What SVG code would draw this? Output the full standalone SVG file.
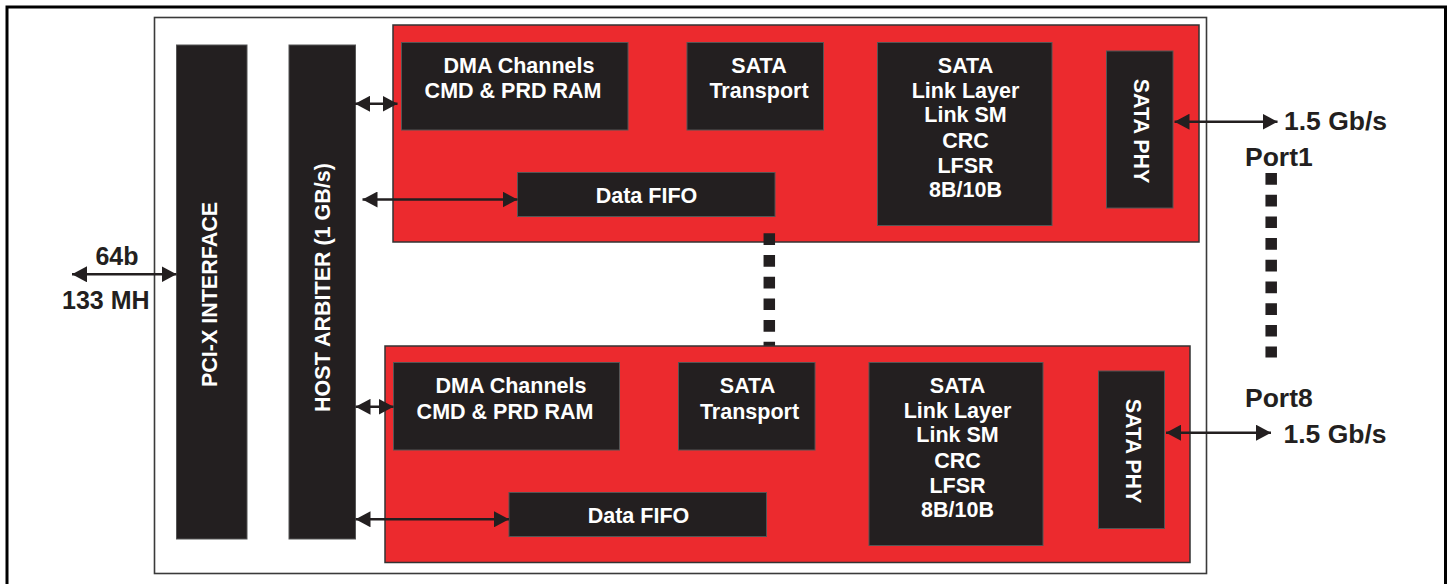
<svg xmlns="http://www.w3.org/2000/svg" width="1449" height="584" viewBox="0 0 1449 584">
<style>
.t{font-family:"Liberation Sans",Arial,sans-serif;font-weight:bold;font-size:21.5px;fill:#ffffff;text-anchor:middle}
.o{font-family:"Liberation Sans",Arial,sans-serif;font-weight:bold;fill:#231f20}
.blk{fill:#231f20;stroke:#555;stroke-width:1}
.red{fill:#ec2a2e;stroke:#333;stroke-width:1.5}
.ln{stroke:#231f20;stroke-width:2.5;fill:none;marker-start:url(#ah);marker-end:url(#ah)}
.dots{stroke:#231f20;stroke-width:11.5;fill:none;stroke-dasharray:11.7 10}
</style>
<defs>
<marker id="ah" viewBox="0 0 15 16" markerWidth="15" markerHeight="16" refX="15" refY="8" orient="auto-start-reverse" markerUnits="userSpaceOnUse">
<path d="M0,0 L15,8 L0,16 Z" fill="#231f20"/>
</marker>
</defs>
<rect x="0" y="0" width="1449" height="584" fill="#ffffff"/>
<rect x="7" y="7" width="1438.5" height="600" fill="none" stroke="#000" stroke-width="3"/>
<rect id="chip" x="154.5" y="17.5" width="1052" height="556" fill="#fff" stroke="#3a3a3a" stroke-width="1.6"/>

<g id="pcix">
<rect class="blk" x="176.5" y="45" width="70.5" height="494"/>
<text class="t" transform="translate(216.5,294.5) rotate(-90)">PCI-X INTERFACE</text>
</g>
<g id="host-arbiter">
<rect class="blk" x="289" y="45" width="66.5" height="494"/>
<text class="t" transform="translate(330,287.5) rotate(-90)">HOST ARBITER (1 GB/s)</text>
</g>

<g id="port1">
<rect class="red" x="393" y="25" width="806" height="217"/>
<g id="dma1"><rect class="blk" x="401.5" y="42.5" width="226.5" height="87.5"/>
<text class="t" x="519" y="72.5">DMA Channels</text><text class="t" x="513" y="97.5">CMD &amp; PRD RAM</text></g>
<g id="transport1"><rect class="blk" x="687" y="42.5" width="136.5" height="87.5"/>
<text class="t" x="759" y="72.5">SATA</text><text class="t" x="759" y="97.5">Transport</text></g>
<g id="fifo1"><rect class="blk" x="517.5" y="172.5" width="257.5" height="44"/>
<text class="t" x="646.5" y="202.5">Data FIFO</text></g>
<g id="link1"><rect class="blk" x="877.5" y="42.5" width="174.5" height="183"/>
<text class="t" x="965.5" y="72.5">SATA</text><text class="t" x="965.5" y="97.5">Link Layer</text><text class="t" x="965.5" y="122.3">Link SM</text><text class="t" x="965.5" y="147.5">CRC</text><text class="t" x="965.5" y="172.5">LFSR</text><text class="t" x="965.5" y="197.3">8B/10B</text></g>
<g id="phy1"><rect class="blk" x="1106.5" y="51" width="66.5" height="157"/>
<text class="t" transform="translate(1134,131) rotate(90)">SATA PHY</text></g>
</g>

<path class="dots" d="M769.3,233.3 V346"/>

<g id="port8">
<rect class="red" x="385" y="346" width="805" height="216.5"/>
<g id="dma8"><rect class="blk" x="393.5" y="362.5" width="226" height="87.5"/>
<text class="t" x="511" y="392.7">DMA Channels</text><text class="t" x="505" y="418.5">CMD &amp; PRD RAM</text></g>
<g id="transport8"><rect class="blk" x="678.5" y="362.5" width="136.5" height="87.5"/>
<text class="t" x="747.5" y="392.7">SATA</text><text class="t" x="749.5" y="418.5">Transport</text></g>
<g id="fifo8"><rect class="blk" x="509" y="492.5" width="257.5" height="44"/>
<text class="t" x="638.5" y="522.5">Data FIFO</text></g>
<g id="link8"><rect class="blk" x="869" y="362.5" width="174" height="183"/>
<text class="t" x="957.5" y="392.7">SATA</text><text class="t" x="957.5" y="417.7">Link Layer</text><text class="t" x="957.5" y="442.3">Link SM</text><text class="t" x="957.5" y="467.5">CRC</text><text class="t" x="957.5" y="492.7">LFSR</text><text class="t" x="957.5" y="517.3">8B/10B</text></g>
<g id="phy8"><rect class="blk" x="1098.5" y="371" width="66" height="157.5"/>
<text class="t" transform="translate(1126,451) rotate(90)">SATA PHY</text></g>
</g>

<path class="dots" d="M1271.2,173 V357.5"/>

<g id="connectors">
<line class="ln" x1="72" y1="274.3" x2="176.5" y2="274.3"/>
<line class="ln" x1="355" y1="103.8" x2="397.5" y2="103.8"/>
<line class="ln" x1="362.5" y1="199.5" x2="517.5" y2="199.5"/>
<line class="ln" x1="355.5" y1="406.8" x2="393.5" y2="406.8"/>
<line class="ln" x1="355.5" y1="519.3" x2="509" y2="519.3"/>
<line class="ln" x1="1174.5" y1="121.7" x2="1277.5" y2="121.7"/>
<line class="ln" x1="1166" y1="432.7" x2="1271" y2="432.7"/>
</g>

<g id="labels">
<text class="o" x="117" y="265" font-size="25" text-anchor="middle">64b</text>
<text class="o" x="62" y="308.7" font-size="25">133 MH</text>
<text class="o" x="1284" y="130" font-size="26.5">1.5 Gb/s</text>
<text class="o" x="1245" y="165.5" font-size="26.5">Port1</text>
<text class="o" x="1245" y="407.3" font-size="26.5">Port8</text>
<text class="o" x="1283.5" y="443" font-size="26.5">1.5 Gb/s</text>
</g>
</svg>
